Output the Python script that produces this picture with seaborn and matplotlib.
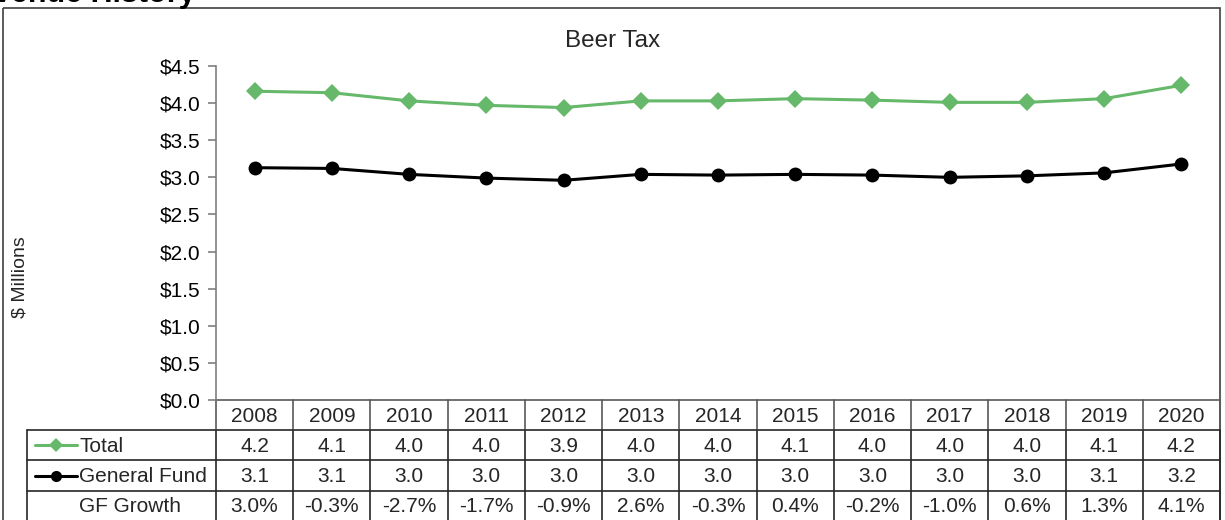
import matplotlib
matplotlib.use('Agg')
import matplotlib.pyplot as plt
import matplotlib.transforms as mtrans
from matplotlib.lines import Line2D
from matplotlib.patches import Rectangle
import seaborn as sns
import pandas as pd

# data
years = ['2008', '2009', '2010', '2011', '2012', '2013', '2014',
         '2015', '2016', '2017', '2018', '2019', '2020']
total = [4.16, 4.14, 4.03, 3.97, 3.94, 4.03, 4.03, 4.06, 4.04, 4.01, 4.01, 4.06, 4.24]
general_fund = [3.13, 3.12, 3.04, 2.99, 2.96, 3.04, 3.03, 3.04, 3.03, 3.00, 3.02, 3.06, 3.18]
gf_growth = [3.0, -0.3, -2.7, -1.7, -0.9, 2.6, -0.3, 0.4, -0.2, -1.0, 0.6, 1.3, 4.1]
y_ticks = [0.0, 0.5, 1.0, 1.5, 2.0, 2.5, 3.0, 3.5, 4.0, 4.5]

GREEN = '#66B96A'
GRID = '#262626'
W, H = 1225, 520
FS = 15

sns.set_style('white')
plt.rcParams['font.family'] = ['Liberation Sans', 'DejaVu Sans']

df = pd.DataFrame({'year': years, 'Total': total, 'General Fund': general_fund})
df['x'] = range(len(years))

fig = plt.figure(figsize=(W / 100, H / 100), dpi=100)
fig.patch.set_facecolor('white')

# overlay in pixel coordinates for the frame, title and table
ov = fig.add_axes([0, 0, 1, 1])
ov.set_xlim(0, W)
ov.set_ylim(H, 0)
ov.axis('off')

ax = fig.add_axes([216 / W, (H - 400) / H, (1220 - 216) / W, (400 - 66) / H])
ax.patch.set_alpha(0)

sns.lineplot(data=df, x='x', y='Total', ax=ax, color=GREEN, lw=2.2,
             marker='D', markersize=9, markeredgewidth=0, zorder=3)
sns.lineplot(data=df, x='x', y='General Fund', ax=ax, color='black', lw=2.2,
             marker='o', markersize=10, markeredgewidth=0, zorder=3)

ax.set_xlim(-0.5, len(years) - 0.5)
ax.set_ylim(0, 4.5)
ax.set_yticks(y_ticks)
ax.set_yticklabels([f'${v:.1f}' for v in y_ticks], fontsize=FS)
ax.set_xticks([])
ax.set_xlabel('')
ax.set_ylabel('')
for s in ['top', 'right', 'bottom']:
    ax.spines[s].set_visible(False)
ax.spines['left'].set_color('#7f7f7f')
ax.spines['left'].set_linewidth(1.2)
ax.tick_params(axis='y', direction='out', length=6, width=1.2, color='#7f7f7f',
               left=True, pad=5, labelcolor='black')

# outer chart border
ov.add_patch(Rectangle((3, 8), 1217, 530, fill=False, ec='#404040', lw=1.2))

# clipped heading above the chart
ov.text(196, 2, 'Revenue History', ha='right', va='baseline', fontsize=22,
        fontweight='bold', color='black')

ov.text(613, 41, 'Beer Tax', ha='center', va='center', fontsize=17.5)
ov.text(20, 277, '$ Millions', ha='center', va='center', rotation=90, fontsize=14)

# data table beneath the axis
blend = mtrans.blended_transform_factory(ax.transData, ov.transData)
rows = [400, 430, 460, 491, 521]
label_left = 27
n = len(years)
ov.plot([216, 1220], [rows[0], rows[0]], color='#595959', lw=1.2)
for yy in rows[1:]:
    ov.plot([label_left, 1220], [yy, yy], color=GRID, lw=1.2)
for i in range(n + 1):
    ax.plot([i - 0.5, i - 0.5], [rows[0], rows[1]], transform=blend,
            color='#595959', lw=1.2, clip_on=False)
    ax.plot([i - 0.5, i - 0.5], [rows[1], rows[-1]], transform=blend,
            color=GRID, lw=1.2, clip_on=False)
ov.plot([label_left, label_left], [rows[1], rows[-1]], color=GRID, lw=1.2)

cells = [years,
         [f'{v:.1f}' for v in total],
         [f'{v:.1f}' for v in general_fund],
         [f'{v:.1f}%' for v in gf_growth]]
for r, vals in enumerate(cells):
    yc = (rows[r] + rows[r + 1]) / 2 + 1
    for i, v in enumerate(vals):
        ax.text(i, yc, v, transform=blend, ha='center', va='center',
                fontsize=FS, clip_on=False)

# row labels with legend keys
labels = ['Total', 'General Fund', 'GF Growth']
for r, lab in enumerate(labels, start=1):
    yc = (rows[r] + rows[r + 1]) / 2 + 1
    ov.text(79, yc, lab, ha='left', va='center', fontsize=FS)
ov.add_line(Line2D([35, 56, 77], [445, 445, 445], color=GREEN, lw=2.2,
                   marker='D', markevery=[1], markersize=7, mew=0))
ov.add_line(Line2D([35, 56, 77], [476, 476, 476], color='black', lw=2.2,
                   marker='o', markevery=[1], markersize=8, mew=0))

fig.savefig('out.png', dpi=100)
